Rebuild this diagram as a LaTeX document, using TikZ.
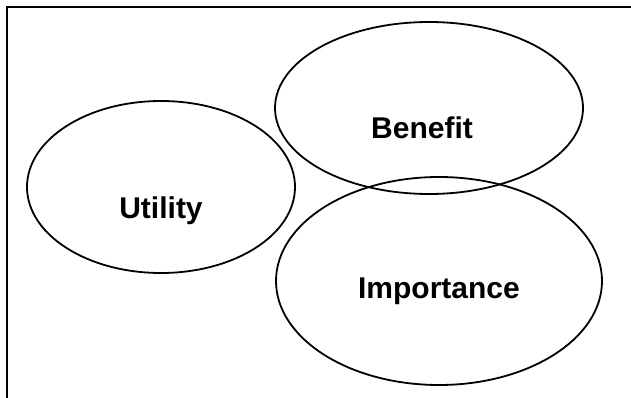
\documentclass[tikz,border=0pt]{standalone}
\usepackage{fontspec}
\setmainfont{Liberation Sans}
\usepackage{tikz}
\usetikzlibrary{shapes.geometric}

\tikzset{
    circ/.style={draw, ellipse, line width=1.8pt, inner sep=0pt},
    word/.style={anchor=base, font=\bfseries\fontsize{30}{33}\selectfont}
}

\begin{document}
\begin{tikzpicture}[x=1pt, y=-1pt]
            \useasboundingbox (0, 0) rectangle (631, 398);
            \clip (0, 0) rectangle (631, 398);
            \draw[line width=2.6pt] (7, 7) rectangle (660, 420); % frame

            \node[circ, minimum width=268pt, minimum height=172pt] (utility) at (161, 187) {};
            \node[circ, minimum width=308pt, minimum height=172pt] (benefit) at (429, 108) {};
            \node[circ, minimum width=326pt, minimum height=208pt] (importance) at (439, 281) {};

            \node[word] (utilitytxt) at (161, 218) {Utility};
            \node[word] (benefittxt) at (422, 139) {Benefit};
            \node[word] (importancetxt) at (439, 298) {Importance};
        \end{tikzpicture}
\end{document}
